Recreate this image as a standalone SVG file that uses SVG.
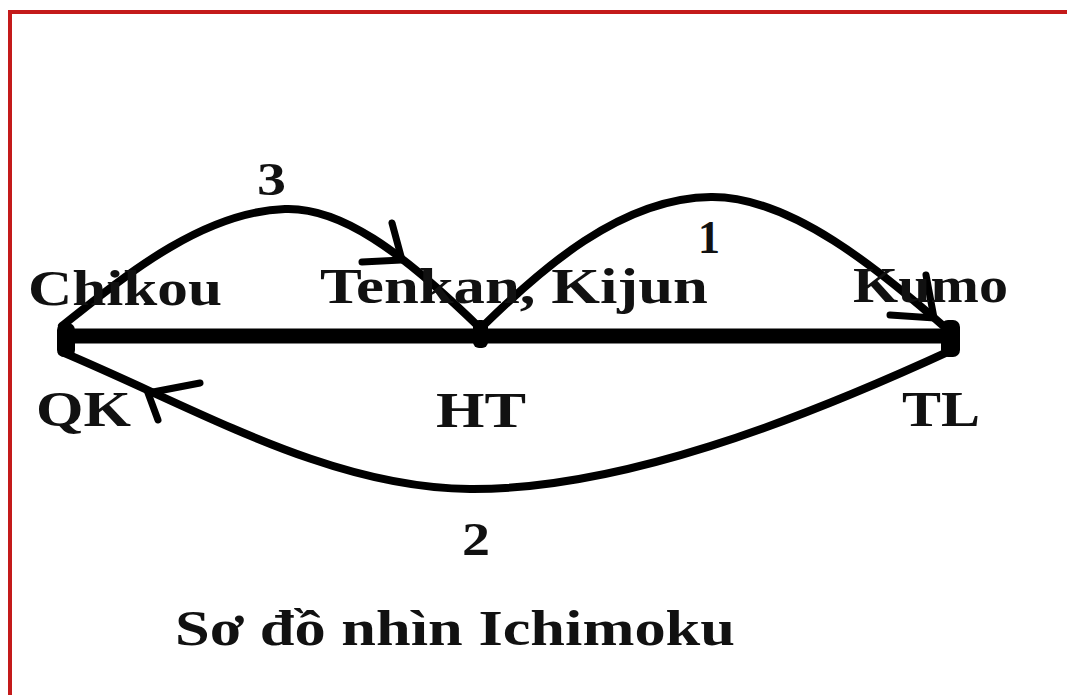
<svg xmlns="http://www.w3.org/2000/svg" width="1067" height="695" viewBox="0 0 1067 695">
<style>
.lbl{font-family:"Liberation Serif","Times New Roman",serif;font-weight:bold;font-size:50px;fill:#111}
.num{font-family:"Liberation Serif","Times New Roman",serif;font-weight:bold;font-size:46px;fill:#111}
.arc{fill:none;stroke:#000;stroke-width:8;stroke-linecap:round;stroke-linejoin:round}
.head{fill:none;stroke:#000;stroke-width:7;stroke-linecap:round}
.dot{fill:#000}
</style>
<rect x="0" y="0" width="1067" height="695" fill="#fff"/>
<g id="frame">
<line x1="8" y1="12" x2="1067" y2="12" stroke="#c41a1a" stroke-width="4"/>
<line x1="10" y1="10" x2="10" y2="695" stroke="#c41a1a" stroke-width="4"/>
</g>
<g id="connectors">
<line id="timeline" x1="62" y1="336" x2="950" y2="336" stroke="#000" stroke-width="15"/>
<g id="arc3">
<path class="arc" d="M62,326 C120,280 200,212 285,209 C340,207 400,250 480,328"/>
<path class="head" d="M392,223 L402,260 L362,262"/>
<text class="num" x="257" y="195" textLength="29" lengthAdjust="spacingAndGlyphs">3</text>
</g>
<g id="arc1">
<path class="arc" d="M482,327 C540,270 620,198 711,197 C790,196 880,270 948,330"/>
<path class="head" d="M926,275 L934,318 L890,315"/>
<text class="num" x="698" y="253" textLength="22" lengthAdjust="spacingAndGlyphs">1</text>
</g>
<g id="arc2">
<path class="arc" d="M952,350 C800,420 620,490 470,489 C330,488 200,410 62,352"/>
<path class="head" d="M200,383 L148,393 L158,420"/>
<text class="num" x="462" y="555" textLength="28" lengthAdjust="spacingAndGlyphs">2</text>
</g>
</g>
<g id="node-qk">
<rect class="dot" x="57" y="323" width="18" height="34" rx="7"/>
<text class="lbl" x="28" y="305" textLength="194" lengthAdjust="spacingAndGlyphs">Chikou</text>
<text class="lbl" x="36" y="426" textLength="95" lengthAdjust="spacingAndGlyphs">QK</text>
</g>
<g id="node-ht">
<rect class="dot" x="473" y="320" width="15" height="28" rx="6"/>
<text class="lbl" x="320" y="303" textLength="388" lengthAdjust="spacingAndGlyphs">Tenkan, Kijun</text>
<text class="lbl" x="436" y="427" textLength="90" lengthAdjust="spacingAndGlyphs">HT</text>
</g>
<g id="node-tl">
<rect class="dot" x="941" y="320" width="19" height="37" rx="7"/>
<text class="lbl" x="853" y="302" textLength="155" lengthAdjust="spacingAndGlyphs">Kumo</text>
<text class="lbl" x="902" y="426" textLength="78" lengthAdjust="spacingAndGlyphs">TL</text>
</g>
<g id="title">
<text class="lbl" x="175" y="645" textLength="560" lengthAdjust="spacingAndGlyphs">Sơ đồ nhìn Ichimoku</text>
</g>
</svg>
